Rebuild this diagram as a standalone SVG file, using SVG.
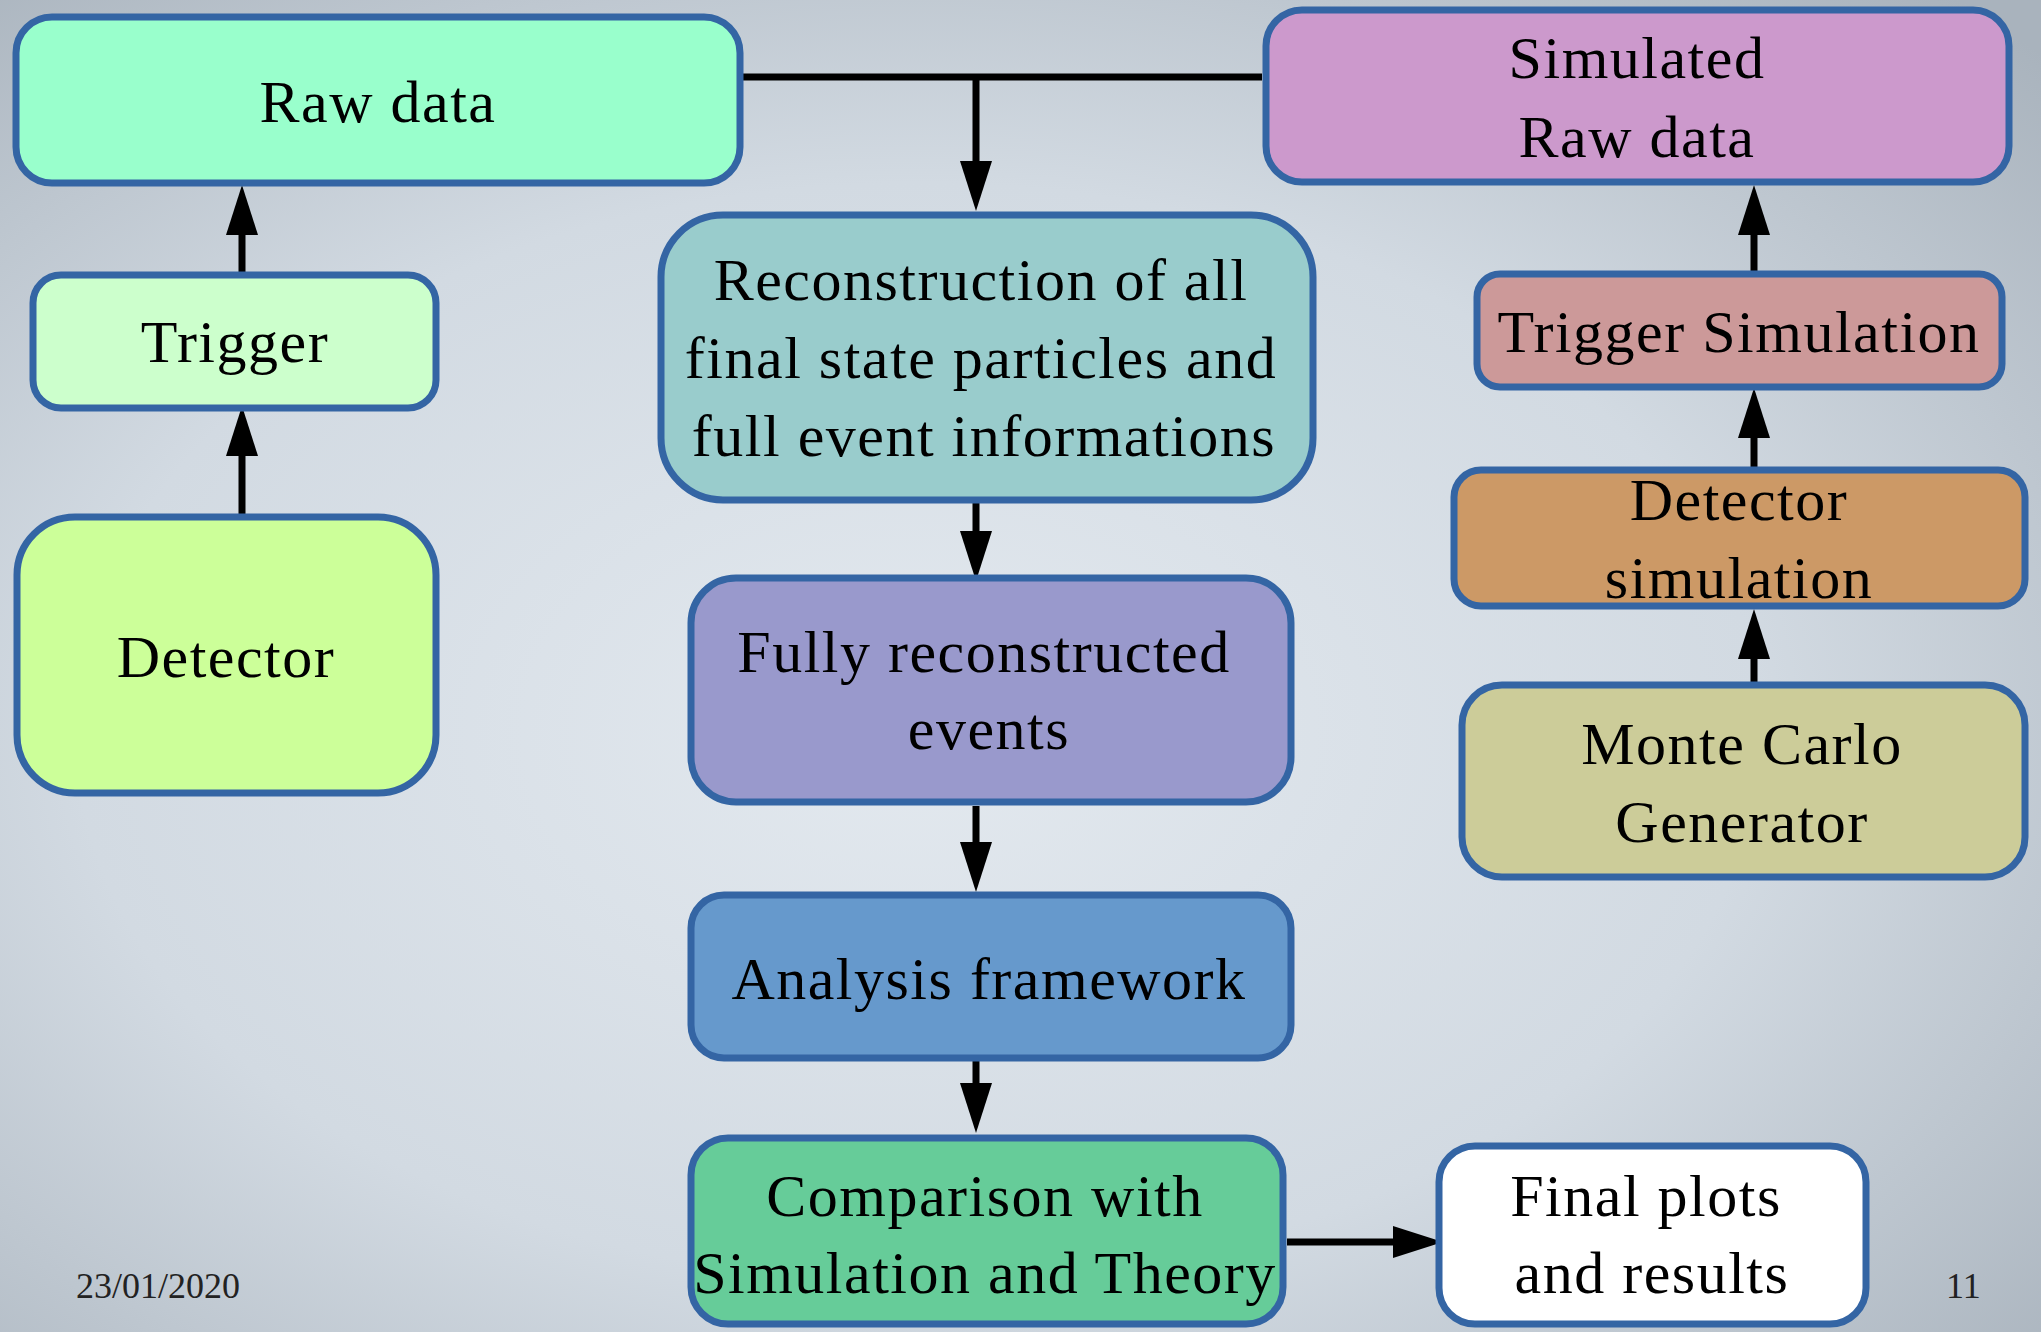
<svg xmlns="http://www.w3.org/2000/svg" width="2041" height="1332" viewBox="0 0 2041 1332">
<defs>
<radialGradient id="bg" cx="0.45" cy="0.55" r="0.75">
<stop offset="0" stop-color="#e3e9ef"/>
<stop offset="0.55" stop-color="#d2dae2"/>
<stop offset="1" stop-color="#a9b3bd"/>
</radialGradient>
<marker id="ah" markerUnits="userSpaceOnUse" markerWidth="50" markerHeight="32" viewBox="0 0 50 32" refX="1" refY="16" orient="auto">
<path d="M0,0 L50,16 L0,32 Z" fill="#000"/>
</marker>
<style>
.box{stroke:#3465a4;stroke-width:7}
.t{font-family:"Liberation Serif","Times New Roman",serif;font-size:60px;fill:#000;text-anchor:middle;letter-spacing:1.5px}
.f{font-family:"Liberation Serif","Times New Roman",serif;font-size:36px;fill:#222}
.c{fill:none;stroke:#000;stroke-width:7}
</style>
</defs>
<rect x="0" y="0" width="2041" height="1332" fill="url(#bg)"/>

<g id="connectors">
<path class="c" d="M742,77 H1262"/>
<path class="c" d="M976,77 V162" marker-end="url(#ah)"/>
<path class="c" d="M242,515 V455" marker-end="url(#ah)"/>
<path class="c" d="M242,273 V234" marker-end="url(#ah)"/>
<path class="c" d="M976,500 V532" marker-end="url(#ah)"/>
<path class="c" d="M976,806 V843" marker-end="url(#ah)"/>
<path class="c" d="M976,1058 V1084" marker-end="url(#ah)"/>
<path class="c" d="M1287,1242 H1394" marker-end="url(#ah)"/>
<path class="c" d="M1754,272 V234" marker-end="url(#ah)"/>
<path class="c" d="M1754,470 V437" marker-end="url(#ah)"/>
<path class="c" d="M1754,685 V658" marker-end="url(#ah)"/>
</g>

<g id="raw-data">
<rect class="box" x="16" y="17" width="724" height="166" rx="36" fill="#99ffcc"/>
<text class="t" x="378" y="122">Raw data</text>
</g>
<g id="trigger">
<rect class="box" x="33" y="275" width="403" height="133" rx="28" fill="#ccffcc"/>
<text class="t" x="235" y="362">Trigger</text>
</g>
<g id="detector">
<rect class="box" x="17" y="517" width="419" height="276" rx="58" fill="#ccff99"/>
<text class="t" x="226" y="677">Detector</text>
</g>
<g id="reconstruction">
<rect class="box" x="661" y="215" width="652" height="285" rx="62" fill="#99cccc"/>
<text class="t" x="981" y="300">Reconstruction of all</text>
<text class="t" x="981" y="378">final state particles and</text>
<text class="t" x="984" y="456">full event informations</text>
</g>
<g id="fully-reconstructed">
<rect class="box" x="691" y="578" width="600" height="224" rx="45" fill="#9999cc"/>
<text class="t" x="984" y="672">Fully reconstructed</text>
<text class="t" x="989" y="749">events</text>
</g>
<g id="analysis">
<rect class="box" x="691" y="895" width="600" height="163" rx="33" fill="#6699cc"/>
<text class="t" x="989" y="999">Analysis framework</text>
</g>
<g id="comparison">
<rect class="box" x="691" y="1138" width="592" height="186" rx="37" fill="#66cc99"/>
<text class="t" x="985" y="1216">Comparison with</text>
<text class="t" x="985" y="1293">Simulation and Theory</text>
</g>
<g id="final">
<rect class="box" x="1439" y="1146" width="427" height="178" rx="36" fill="#ffffff"/>
<text class="t" x="1646" y="1216">Final plots</text>
<text class="t" x="1652" y="1293">and results</text>
</g>
<g id="simulated-raw-data">
<rect class="box" x="1266" y="10" width="743" height="172" rx="36" fill="#cc99cc"/>
<text class="t" x="1637" y="78">Simulated</text>
<text class="t" x="1637" y="157">Raw data</text>
</g>
<g id="trigger-simulation">
<rect class="box" x="1477" y="274" width="525" height="113" rx="23" fill="#cc9999"/>
<text class="t" x="1739" y="352">Trigger Simulation</text>
</g>
<g id="detector-simulation">
<rect class="box" x="1454" y="470" width="571" height="136" rx="27" fill="#cc9966"/>
<text class="t" x="1739" y="520">Detector</text>
<text class="t" x="1739" y="598">simulation</text>
</g>
<g id="monte-carlo">
<rect class="box" x="1462" y="685" width="563" height="192" rx="40" fill="#cccc99"/>
<text class="t" x="1742" y="764">Monte Carlo</text>
<text class="t" x="1742" y="842">Generator</text>
</g>

<text class="f" x="76" y="1298">23/01/2020</text>
<text class="f" x="1946" y="1298">11</text>
</svg>
